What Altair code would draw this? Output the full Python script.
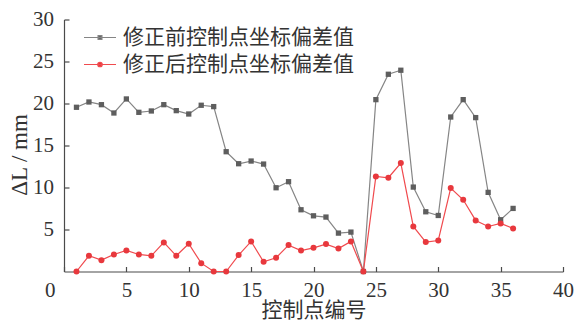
import altair as alt
import pandas as pd

# Control point number and coordinate deviation ΔL (mm) before / after correction
points = list(range(1, 37))
before = [19.55, 20.18, 19.86, 18.87, 20.54, 18.95, 19.11, 19.86, 19.15, 18.75, 19.79, 19.63,
          14.26, 12.83, 13.15, 12.79, 9.97, 10.69, 7.35, 6.63, 6.48, 4.57, 4.69, 0.0,
          20.46, 23.48, 23.96, 10.05, 7.11, 6.67, 18.39, 20.46, 18.32, 9.42, 6.16, 7.51]
after = [0.0, 1.87, 1.35, 2.03, 2.50, 2.03, 1.87, 3.46, 1.87, 3.30, 0.99, 0.0,
         0.0, 1.95, 3.58, 1.15, 1.63, 3.14, 2.50, 2.82, 3.26, 2.74, 3.58, 0.0,
         11.32, 11.16, 12.91, 5.36, 3.50, 3.69, 9.93, 8.54, 6.08, 5.36, 5.72, 5.13]

s_before = "修正前控制点坐标偏差值"
s_after = "修正后控制点坐标偏差值"
series_names = [s_before, s_after]

df = pd.DataFrame({
    "idx": points + points,
    "val": before + after,
    "series": [s_before] * len(points) + [s_after] * len(points),
})

AXIS_COLOR = "#4a4a4a"
TEXT_COLOR = "#333333"
SERIF = "Liberation Serif"
CJK = "Noto Sans CJK SC"

line_scale = alt.Scale(domain=series_names, range=["#858585", "#f04a4e"])
fill_scale = alt.Scale(domain=series_names, range=["#5e5e5e", "#e8383d"])
# legend glyphs: a short line segment with the series marker in the middle
shape_scale = alt.Scale(
    domain=series_names,
    range=[
        "M-1,0H1M-0.12,-0.12H0.12V0.12H-0.12Z",
        "M-1,0H1M0.14,0A0.14,0.14,0,1,1,-0.14,0A0.14,0.14,0,1,1,0.14,0Z",
    ],
)

# ticks point into the plot; label padding makes up for the inward tick length
x_enc = alt.X(
    "idx:Q",
    scale=alt.Scale(domain=[0, 40], nice=False, zero=False),
    axis=alt.Axis(
        values=[0, 5, 10, 15, 20, 25, 30, 35, 40],
        title="控制点编号",
        titleFont=CJK,
        titleFontSize=21,
        titleFontWeight="normal",
        titleColor=TEXT_COLOR,
        titleBaseline="top",
        titleY=28,
        labelFont=SERIF,
        labelFontSize=21,
        labelColor=TEXT_COLOR,
        labelPadding=12.5,
        labelFlush=False,
        labelOverlap=False,
        labelAlign={"condition": {"test": "datum.value == 0", "value": "right"}, "value": "center"},
        labelOffset={"condition": {"test": "datum.value == 0", "value": -9}, "value": 0},
        tickSize={"expr": "-5"},
        grid=False,
    ),
)
y_enc = alt.Y(
    "val:Q",
    scale=alt.Scale(domain=[0, 30], nice=False),
    axis=alt.Axis(
        values=[5, 10, 15, 20, 25, 30],
        title="ΔL / mm",
        titleFont=SERIF,
        titleFontSize=23,
        titleFontWeight="normal",
        titleColor=TEXT_COLOR,
        titleX=-45,
        titleY=135,
        titleBaseline="middle",
        labelFont=SERIF,
        labelFontSize=21,
        labelColor=TEXT_COLOR,
        labelPadding=15.5,
        tickSize={"expr": "-5"},
        grid=False,
    ),
)

legend = alt.Legend(
    title=None,
    orient="none",
    legendX=19,
    legendY=1,
    symbolSize=1024,
    symbolStrokeWidth=1.2,
    labelFont=CJK,
    labelFontSize=21,
    labelColor=TEXT_COLOR,
    labelOffset=6,
    labelLimit=0,
    rowPadding=-2,
    padding=0,
)

base = alt.Chart(df)

lines = base.mark_line(strokeWidth=1.2).encode(
    x=x_enc, y=y_enc,
    stroke=alt.Stroke("series:N", scale=line_scale, legend=legend),
)

squares = base.transform_filter(alt.datum.series == s_before).mark_point(
    shape="square", filled=True, size=28, opacity=1
).encode(x=x_enc, y=y_enc, color=alt.Color("series:N", scale=fill_scale, legend=legend))

circles = base.transform_filter(alt.datum.series == s_after).mark_point(
    shape="circle", filled=True, size=36, opacity=1
).encode(x=x_enc, y=y_enc, color=alt.Color("series:N", scale=fill_scale, legend=legend))

# carries the legend glyphs: its own marks are drawn at zero size
legend_layer = base.mark_point(
    filled=True, opacity=1, strokeWidth=1.2, size=0
).encode(
    x=x_enc, y=y_enc,
    color=alt.Color("series:N", scale=fill_scale, legend=legend),
    stroke=alt.Stroke("series:N", scale=line_scale, legend=legend),
    shape=alt.Shape("series:N", scale=shape_scale, legend=legend),
)

chart = alt.layer(lines, squares, circles, legend_layer).properties(
    width=499,
    height=252,
    autosize=alt.AutoSizeParams(type="none"),
    padding={"left": 64, "top": 19.5, "right": 11, "bottom": 50.5},
    background="white",
).configure_view(stroke=None).configure_axis(
    domainColor=AXIS_COLOR,
    domainWidth=1.2,
    tickColor=AXIS_COLOR,
    tickWidth=1.2,
)

chart.save("out.html", embed_options={"renderer": "svg", "actions": False})
